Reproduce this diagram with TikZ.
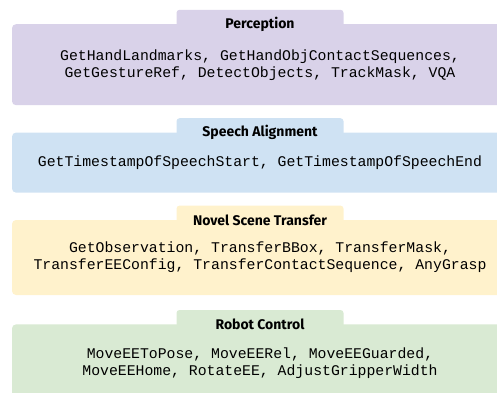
\documentclass[tikz,border=0pt]{standalone}
\usepackage{fontspec}
\setmainfont{Fira Sans}
\setmonofont{Liberation Mono}
\usetikzlibrary{positioning}
\definecolor{percep}{HTML}{D9D2E9}
\definecolor{speech}{HTML}{CFE2F3}
\definecolor{novel}{HTML}{FFF2CC}
\definecolor{robot}{HTML}{D9EAD3}
\tikzset{
	layer/.style={rounded corners=4pt, minimum width=496pt, inner sep=0pt, align=center,
		font=\fontsize{14.8}{17}\selectfont\ttfamily},
	tab/.style={rounded corners=3pt, minimum width=167pt, minimum height=29pt, inner sep=0pt,
		font=\fontsize{14}{16}\selectfont\bfseries},
}
\begin{document}
\begin{tikzpicture}[x=1pt, y=-1pt, line join=round, line cap=round]
	\useasboundingbox (0,0) rectangle (497,392);
	% layers, top to bottom
	\node[layer, fill=percep, minimum height=81pt, anchor=north] (perc) at (260,24)
		{GetHandLandmarks, GetHandObjContactSequences,\\GetGestureRef, DetectObjects, TrackMask, VQA};
	\node[layer, fill=speech, minimum height=60pt, below=27pt of perc] (spch)
		{GetTimestampOfSpeechStart, GetTimestampOfSpeechEnd};
	\node[layer, fill=novel, minimum height=75pt, below=27pt of spch] (nov)
		{GetObservation, TransferBBox, TransferMask,\\TransferEEConfig, TransferContactSequence, AnyGrasp};
	\node[layer, fill=robot, minimum height=78pt, below=29pt of nov] (rob)
		{MoveEEToPose, MoveEERel, MoveEEGuarded,\\MoveEEHome, RotateEE, AdjustGripperWidth};
	% title tabs
	\node[tab, fill=percep, above=-15pt of perc] (percT) {Perception};
	\node[tab, fill=speech, above=-15pt of spch] (spchT) {Speech Alignment};
	\node[tab, fill=novel, above=-15pt of nov] (novT) {Novel Scene Transfer};
	\node[tab, fill=robot, above=-15pt of rob] (robT) {Robot Control};
\end{tikzpicture}
\end{document}
